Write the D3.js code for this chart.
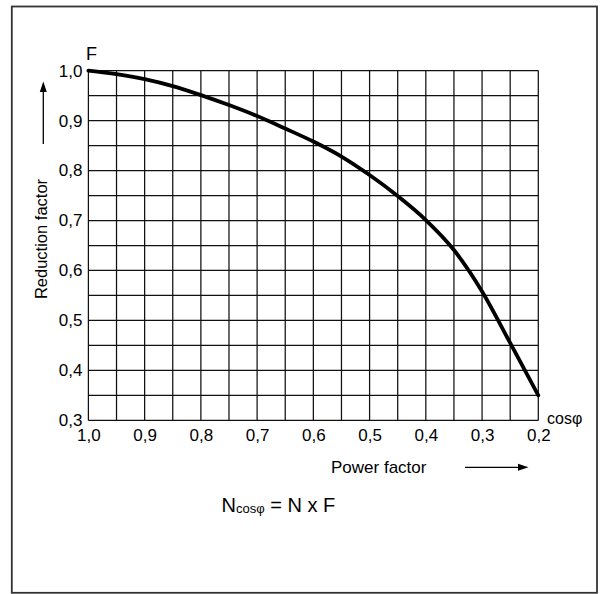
<!DOCTYPE html>
<html>
<head>
<meta charset="utf-8">
<script src="https://cdn.jsdelivr.net/npm/d3@7"></script>
<style>
  html, body { margin: 0; padding: 0; background: #fff; }
  svg { display: block; }
  text { font-family: "Liberation Sans", Arial, Helvetica, sans-serif; fill: #000; }
</style>
</head>
<body>
<svg id="chart" width="605" height="594"></svg>
<script>
// ---- data ----
const powerFactor = [1.0, 0.95, 0.9, 0.85, 0.8, 0.75, 0.7, 0.65, 0.6, 0.55, 0.5, 0.45, 0.4, 0.35, 0.3, 0.25, 0.2];
const reductionF  = [1.0, 0.993, 0.983, 0.969, 0.951, 0.931, 0.909, 0.884, 0.858, 0.828, 0.791, 0.749, 0.701, 0.641, 0.558, 0.455, 0.35];
const xTickValues = [1.0, 0.9, 0.8, 0.7, 0.6, 0.5, 0.4, 0.3, 0.2];
const yTickValues = [0.3, 0.4, 0.5, 0.6, 0.7, 0.8, 0.9, 1.0];
const xGridValues = d3.range(0, 17).map(i => +(1.0 - i * 0.05).toFixed(2));
const yGridValues = d3.range(0, 15).map(i => +(0.3 + i * 0.05).toFixed(2));
const yAxisLabel = "Reduction factor";
const xAxisLabel = "Power factor";
const fmt = d => d.toFixed(1).replace(".", ",");

// ---- drawing ----
const svg = d3.select("#chart");

// outer frame
svg.append("rect")
  .attr("x", 11.8).attr("y", 6.5).attr("width", 585.2).attr("height", 586.3)
  .attr("fill", "none").attr("stroke", "#333").attr("stroke-width", 1.8);

const x = d3.scaleLinear().domain([1.0, 0.2]).range([88.4, 538.3]);
const y = d3.scaleLinear().domain([0.3, 1.0]).range([420.4, 70.6]);

// grid
const grid = svg.append("g").attr("stroke", "#111").attr("stroke-width", 1.25);
grid.selectAll("line.v").data(xGridValues).join("line")
  .attr("class", "v")
  .attr("x1", d => x(d)).attr("x2", d => x(d))
  .attr("y1", y(1.0)).attr("y2", y(0.3));
grid.selectAll("line.h").data(yGridValues).join("line")
  .attr("class", "h")
  .attr("x1", x(1.0)).attr("x2", x(0.2))
  .attr("y1", d => y(d)).attr("y2", d => y(d));

// axes (labels only)
const yAxis = svg.append("g")
  .attr("transform", `translate(${x(1.0)},0)`)
  .call(d3.axisLeft(y).tickValues(yTickValues).tickFormat(fmt).tickSize(0).tickPadding(6));
const xAxis = svg.append("g")
  .attr("transform", `translate(0,${y(0.3)})`)
  .call(d3.axisBottom(x).tickValues(xTickValues).tickFormat(fmt).tickSize(0).tickPadding(8.5));
[yAxis, xAxis].forEach(a => {
  a.select(".domain").remove();
  a.selectAll("text").style("font-size", "17px").attr("fill", "#000")
    .style("font-family", '"Liberation Sans", Arial, sans-serif');
});

// curve
const pts = powerFactor.map((p, i) => [x(p), y(reductionF[i])]);
svg.append("path")
  .attr("d", d3.line().curve(d3.curveMonotoneX)(pts))
  .attr("fill", "none").attr("stroke", "#000").attr("stroke-width", 3.8)
  .attr("stroke-linecap", "round").attr("stroke-linejoin", "round");

// F label
svg.append("text").attr("x", 86).attr("y", 60).style("font-size", "18px").text("F");

// cosφ label
svg.append("text").attr("x", 547).attr("y", 424).style("font-size", "16px").text("cosφ");

// y axis title (rotated)
svg.append("text")
  .attr("transform", "translate(46.5,239) rotate(-90)")
  .attr("text-anchor", "middle")
  .style("font-size", "16.5px")
  .text(yAxisLabel);

// up arrow
svg.append("line").attr("x1", 43.3).attr("x2", 43.3).attr("y1", 144).attr("y2", 90)
  .attr("stroke", "#000").attr("stroke-width", 1.3);
svg.append("path").attr("d", "M43.3,81.5 L39.8,92 L46.8,92 Z").attr("fill", "#000");

// x axis title
svg.append("text").attr("x", 331).attr("y", 473.3).style("font-size", "17px").text(xAxisLabel);

// right arrow
svg.append("line").attr("x1", 465).attr("x2", 520).attr("y1", 467.3).attr("y2", 467.3)
  .attr("stroke", "#000").attr("stroke-width", 1.3);
svg.append("path").attr("d", "M528.5,467.3 L518,463.8 L518,470.8 Z").attr("fill", "#000");

// formula
const f = svg.append("text").attr("x", 221.5).attr("y", 511.7).style("font-size", "20px");
f.append("tspan").text("N");
f.append("tspan").style("font-size", "13px").attr("dy", 1).text("cosφ");
f.append("tspan").attr("dy", -1).text(" = N x F");
</script>
</body>
</html>
